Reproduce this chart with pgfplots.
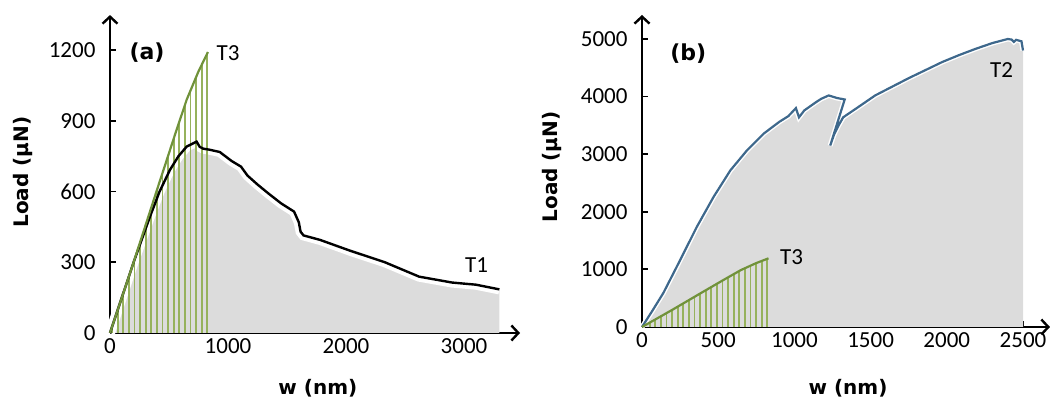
\documentclass[border=0pt]{standalone}
\usepackage{fontspec}
\setmainfont{Carlito}
\newfontfamily\dv{DejaVu Sans}
\usepackage{pgfplots}
\pgfplotsset{compat=1.18}
\usetikzlibrary{arrows.meta,patterns.meta}
\definecolor{tgreen}{RGB}{112,146,58}
\definecolor{hgreen}{RGB}{150,178,92}
\definecolor{tblue}{RGB}{62,104,140}
\definecolor{fgray}{RGB}{220,220,220}

\pgfplotsset{
  myax/.style={
    axis lines=left,
    axis line style={line width=2.8pt,-{Straight Barb[length=7pt,width=15pt,line width=2.4pt]}},
    tick align=inside, major tick length=6pt,
    tick style={line width=1.8pt,black},
    xmin=0, ymin=0,
    ticklabel style={font=\fontsize{23}{23}\selectfont},
    yticklabel style={xshift=-11pt},
    xticklabel style={yshift=-2pt},
    /pgf/number format/assume math mode=true,
    /pgf/number format/1000 sep={},
    clip=false,
    anchor=south west,
    scale only axis,
  },
  hatch/.style={draw=none, pattern={Lines[angle=90,distance=5.6pt,line width=1.8pt]}, pattern color=hgreen},
}

\pgfplotstableread{
x y
0 0
200 300
400 610
550 840
650 990
750 1110
830 1192
}\tthree

\pgfplotstableread{
x y
0 0
100 150
200 300
339 494
420 600
508 692
580 750
650 791
734 812
760 790
790 782
840 778
930 768
1030 730
1110 706
1165 668
1250 630
1340 593
1450 550
1560 515
1600 470
1615 430
1640 414
1780 395
2030 350
2330 300
2620 239
2900 214
3100 205
3300 185
}\tone

\pgfplotstableread{
x y
0 0
70 290
140 590
250 1160
360 1740
470 2260
580 2720
690 3070
800 3360
900 3560
960 3660
1010 3800
1030 3640
1065 3760
1140 3900
1175 3960
1225 4020
1280 3975
1330 3950
1235 3150
1260 3340
1290 3500
1320 3640
1420 3820
1530 4020
1640 4170
1750 4320
1860 4460
1970 4600
2080 4720
2190 4830
2300 4930
2400 5000
2425 4990
2440 4950
2455 4985
2490 4960
2500 4800
}\ttwo

\begin{document}
\begin{tikzpicture}
\useasboundingbox (-110pt,-76pt) rectangle (950pt,333pt);
% panel (a)
\begin{axis}[myax, at={(0pt,0pt)},
  x=0.118pt, y=0.2357pt, xmax=3475, ymax=1349,
  xtick={0,1000,2000,3000}, ytick={0,300,600,900,1200},
  xlabel={w (nm)}, ylabel={Load (μN)},
  every axis x label/.style={at={(axis description cs:0.507,-0.173)},anchor=center,font=\dv\bfseries\fontsize{20}{20}\selectfont},
  every axis y label/.style={at={(axis description cs:-0.212,0.506)},rotate=90,anchor=center,font=\dv\bfseries\fontsize{20}{20}\selectfont},
]
\addplot[fill=fgray,draw=none] table {\tone} \closedcycle;
\addplot[white,line width=10pt] table {\tone};
\addplot[hatch] table {\tthree} \closedcycle;
\addplot[black,line width=2.4pt] table {\tone};
\addplot[tgreen,line width=2.2pt] table {\tthree};
\node[font=\dv\bfseries\fontsize{22}{22}\selectfont] at (axis cs:314,1188) {(a)};
\node[font=\fontsize{23}{23}\selectfont] at (axis cs:1000,1188) {T3};
\node[font=\fontsize{23}{23}\selectfont] at (axis cs:3107,288) {T1};
\end{axis}
% panel (b)
\begin{axis}[myax, at={(532pt,6pt)},
  x=0.1524pt, y=0.0576pt, xmax=2677, ymax=5417,
  xtick={0,500,1000,1500,2000,2500}, ytick={0,1000,2000,3000,4000,5000},
  xlabel={w (nm)}, ylabel={Load (μN)},
  every axis x label/.style={at={(axis description cs:0.505,-0.196)},anchor=center,font=\dv\bfseries\fontsize{20}{20}\selectfont},
  every axis y label/.style={at={(axis description cs:-0.22,0.513)},rotate=90,anchor=center,font=\dv\bfseries\fontsize{20}{20}\selectfont},
]
\addplot[fill=fgray,draw=none] table {\ttwo} \closedcycle;
\addplot[white,line width=5pt] table {\ttwo};
\addplot[hatch] table {\tthree} \closedcycle;
\addplot[tblue,line width=2.2pt] table {\ttwo};
\addplot[tgreen,line width=2.2pt] table {\tthree};
\node[font=\dv\bfseries\fontsize{22}{22}\selectfont] at (axis cs:304,4750) {(b)};
\node[font=\fontsize{23}{23}\selectfont] at (axis cs:2360,4462) {T2};
\node[font=\fontsize{23}{23}\selectfont] at (axis cs:982,1221) {T3};
\end{axis}
\end{tikzpicture}
\end{document}
